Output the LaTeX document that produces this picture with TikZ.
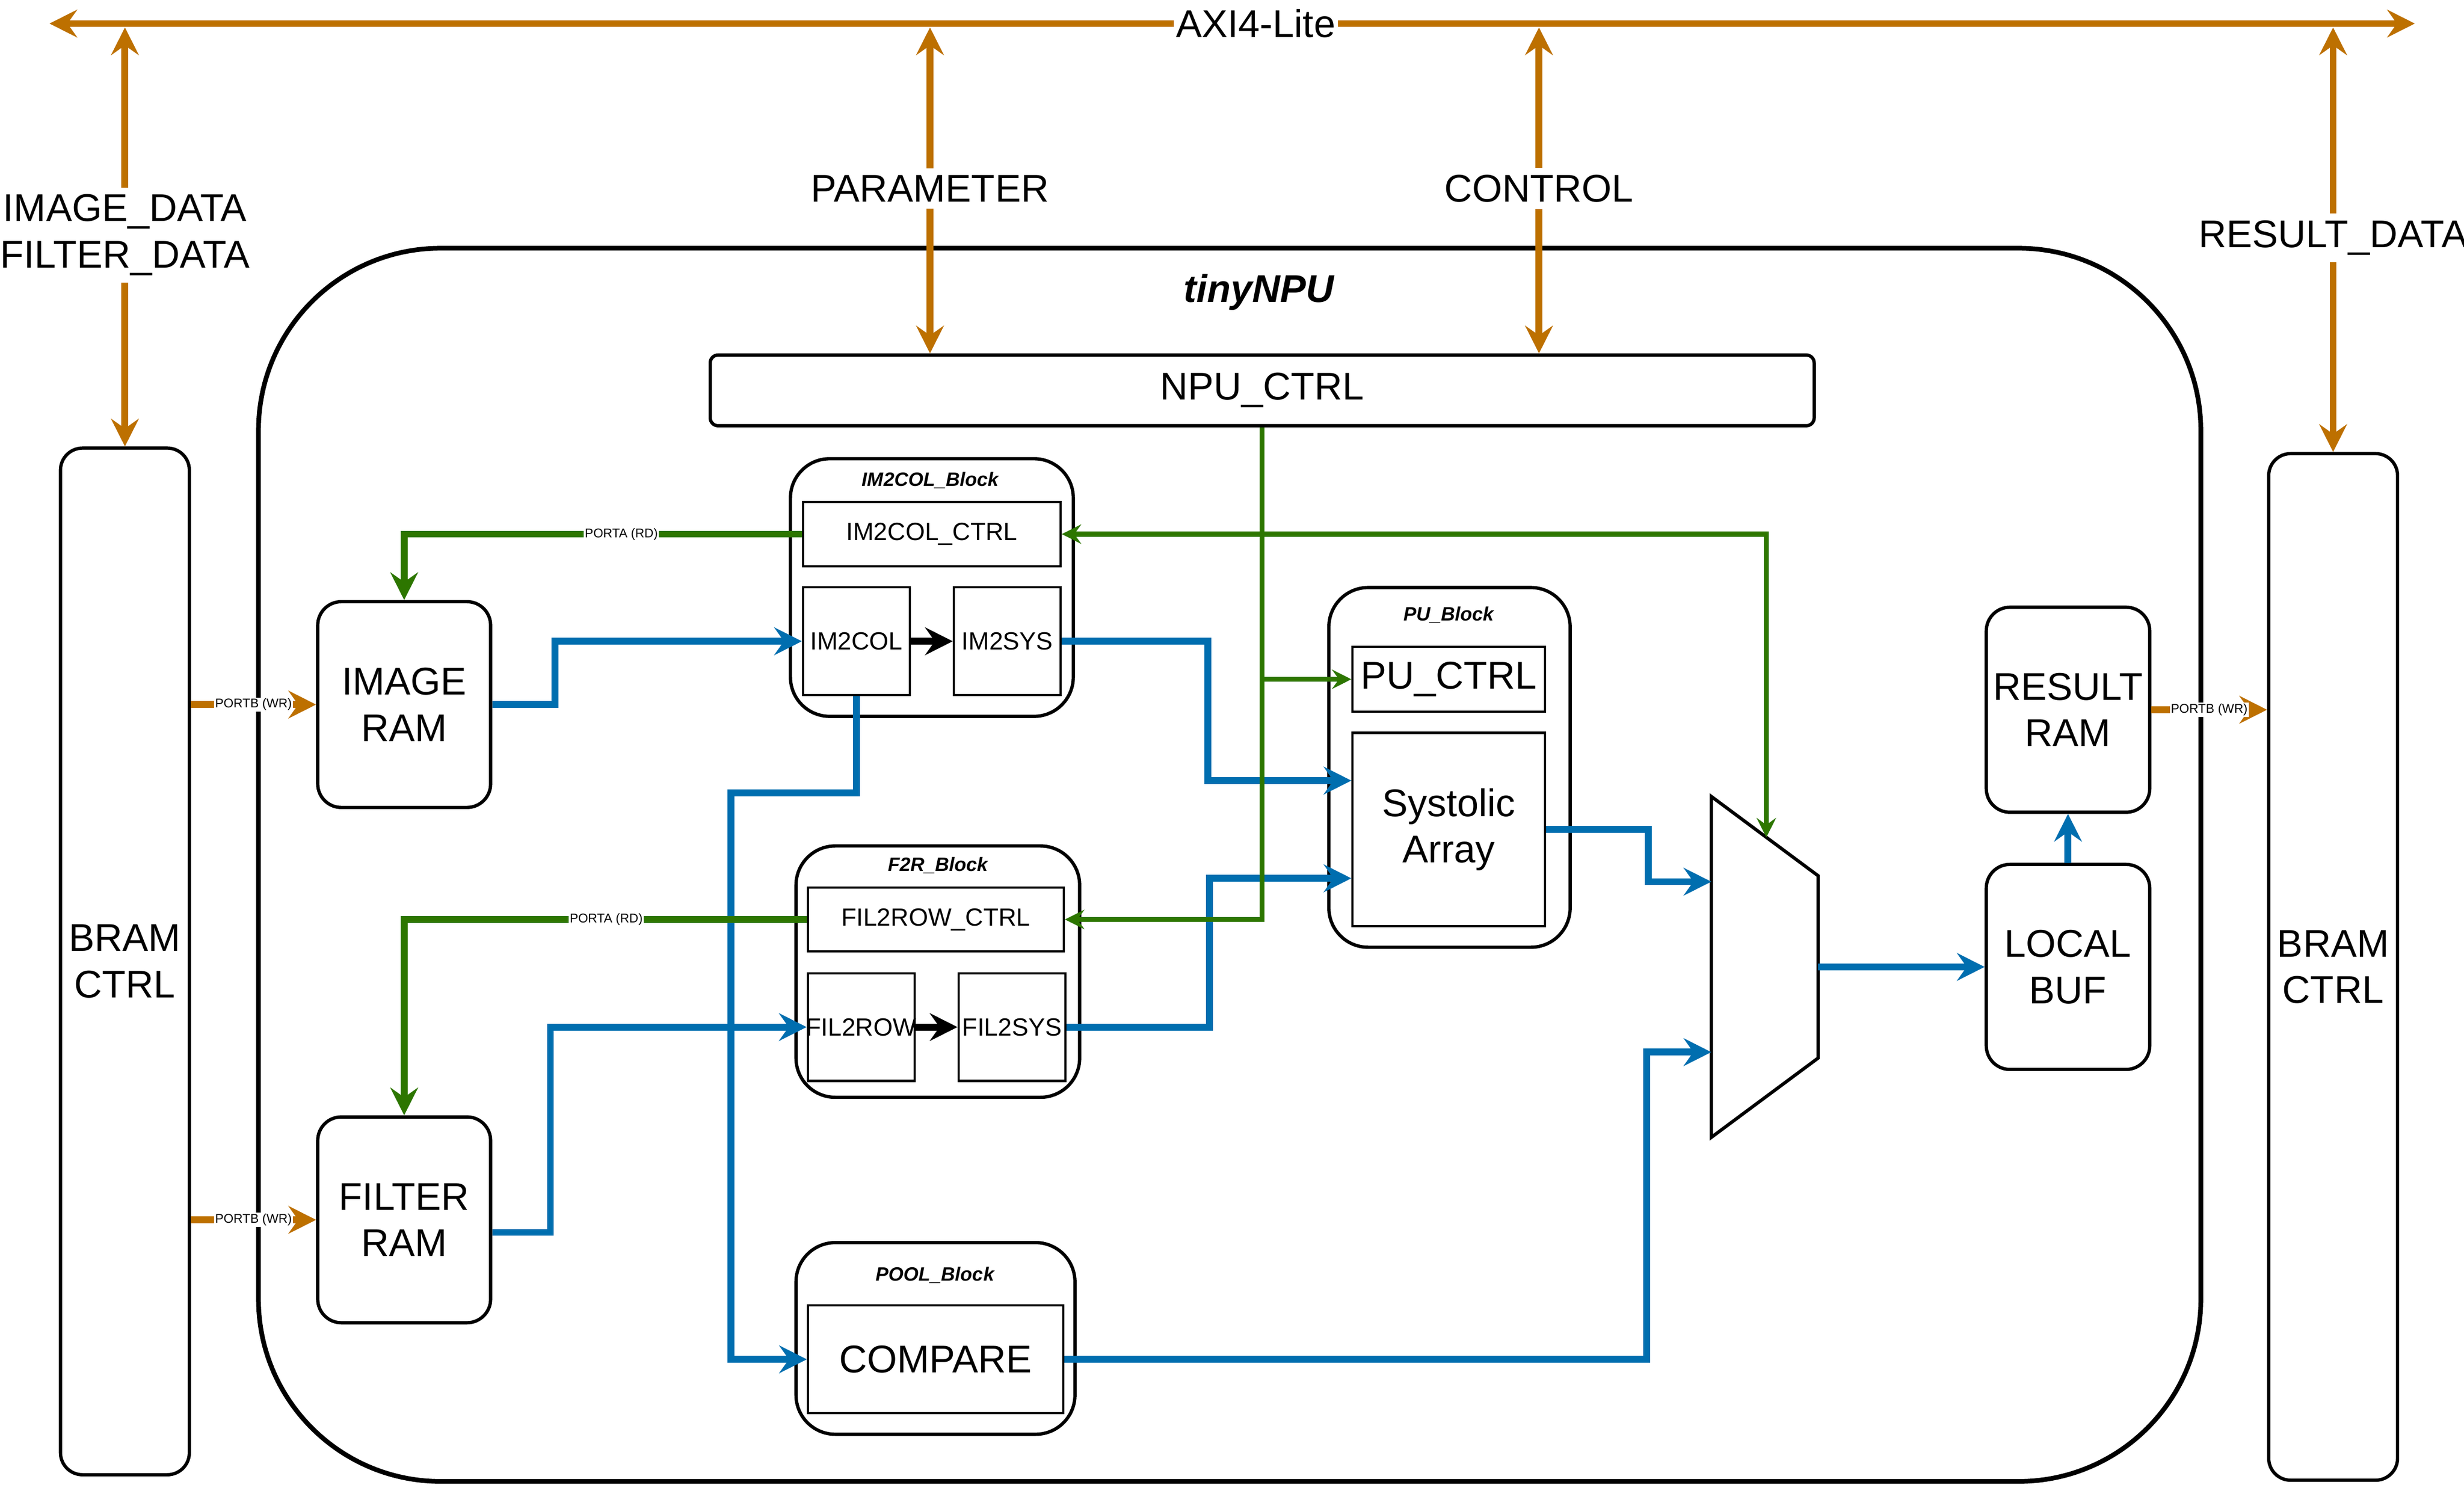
\documentclass[tikz,border=0pt]{standalone}
\usepackage{fontspec}
\setmainfont{Liberation Sans}
\usetikzlibrary{arrows.meta,calc}
\definecolor{axiorange}{HTML}{BD7000}
\definecolor{datablue}{HTML}{006EAF}
\definecolor{ctrlgreen}{HTML}{2D7600}

\begin{document}
\begin{tikzpicture}[x=0.2mm,y=-0.2mm,
  bigtext/.style={font=\fontsize{14}{16.8}\selectfont,align=center},
  smalltext/.style={font=\fontsize{9}{10.8}\selectfont},
  porttext/.style={font=\fontsize{4.6}{5.5}\selectfont,fill=white,inner sep=0.4pt},
  lbl/.style={bigtext,fill=white,inner sep=2.5pt},
  blocktitle/.style={font=\fontsize{7}{8.4}\selectfont\bfseries\itshape},
  ram/.style={draw,line width=1.2pt,rounded corners=3mm,bigtext,inner sep=0pt,minimum width=22mm,minimum height=26.2mm},
  bram/.style={draw,line width=1.2pt,rounded corners=2.8mm,bigtext,inner sep=0pt,minimum width=16.4mm,minimum height=130.7mm},
  blockbox/.style={draw,line width=1.2pt,rounded corners=5mm},
  subbox/.style={draw,line width=0.8pt,inner sep=0pt},
  bigtip/.tip={Stealth[length=10pt,width=10pt,inset=3.5pt]},
  smalltip/.tip={Stealth[length=7pt,width=7pt,inset=2.5pt]},
  axi/.style={draw=axiorange,line width=2.5pt,{bigtip}-{bigtip}},
  wr/.style={draw=axiorange,line width=2.5pt,-{bigtip}},
  data/.style={draw=datablue,line width=2.5pt,-{bigtip}},
  rd/.style={draw=ctrlgreen,line width=2.5pt,-{bigtip}},
  ctl/.style={draw=ctrlgreen,line width=1.8pt,-{smalltip}},
  pass/.style={draw,line width=2.5pt,-{bigtip}}]
\useasboundingbox (0,0) rectangle (1568,945);

\node[draw,line width=1.7pt,rounded corners=23.2mm,minimum width=247.2mm,minimum height=157mm] (npu) at (782.5,550.5) {};
\node[font=\fontsize{14}{16.8}\selectfont\bfseries\itshape] (npuT) at (801,186) {tinyNPU};

\node[bram] (bramL) at (79.5,612) {BRAM\\CTRL};
\node[bram] (bramR) at (1484.7,615.5) {BRAM\\CTRL};
\node[draw,line width=1.2pt,rounded corners=1mm,bigtext,minimum width=140.5mm,minimum height=9mm] (npuctrl) at (803.2,248.5) {NPU\_CTRL};

\node[ram] (imgram) at (257.2,448.5) {IMAGE\\RAM};
\node[ram] (filram) at (257.2,776.5) {FILTER\\RAM};
\node[ram,minimum width=20.8mm,minimum height=26.1mm] (resram) at (1316,451.8) {RESULT\\RAM};
\node[ram,minimum width=20.8mm,minimum height=26.1mm] (localbuf) at (1316,615.5) {LOCAL\\BUF};

\node[blockbox,minimum width=36mm,minimum height=32.8mm] (im2colB) at (593,374) {};
\node[blocktitle] (im2colT) at (592,305.6) {IM2COL\_Block};
\node[subbox,smalltext,minimum width=32.8mm,minimum height=8.2mm] (im2colctrl) at (593,340) {IM2COL\_CTRL};
\node[subbox,smalltext,minimum width=13.6mm,minimum height=13.7mm] (im2col) at (545,408.2) {IM2COL};
\node[subbox,smalltext,minimum width=13.6mm,minimum height=13.7mm] (im2sys) at (641,408.2) {IM2SYS};

\node[blockbox,minimum width=36.1mm,minimum height=32mm] (f2rB) at (596.8,618.5) {};
\node[blocktitle] (f2rT) at (596.8,551) {F2R\_Block};
\node[subbox,smalltext,minimum width=32.6mm,minimum height=8.1mm] (fil2rowctrl) at (595.5,585.3) {FIL2ROW\_CTRL};
\node[subbox,smalltext,inner xsep=-2pt,minimum width=13.6mm,minimum height=13.7mm] (fil2row) at (548,653.8) {FIL2ROW};
\node[subbox,smalltext,minimum width=13.6mm,minimum height=13.7mm] (fil2sys) at (644,653.8) {FIL2SYS};

\node[blockbox,minimum width=35.5mm,minimum height=24.4mm] (poolB) at (595.3,852) {};
\node[blocktitle] (poolT) at (595,811.7) {POOL\_Block};
\node[subbox,bigtext,minimum width=32.5mm,minimum height=13.7mm] (compare) at (595.4,865.3) {COMPARE};

\node[blockbox,minimum width=30.7mm,minimum height=45.8mm] (puB) at (922.4,488.5) {};
\node[blocktitle] (puT) at (922,391.6) {PU\_Block};
\node[subbox,bigtext,minimum width=24.5mm,minimum height=8.3mm] (puctrl) at (921.9,432.4) {PU\_CTRL};
\node[subbox,bigtext,minimum width=24.5mm,minimum height=24.6mm] (systolic) at (921.9,528) {Systolic\\Array};

\coordinate (muxA) at (1089,507);
\coordinate (muxB) at (1157,557.5);
\coordinate (muxC) at (1157,673.5);
\coordinate (muxD) at (1089,724);
\draw[line width=1.2pt] (muxA) -- (muxB) -- (muxC) -- (muxD) -- cycle;
\coordinate (muxIn1) at ($(muxA)!.25!(muxD)$);
\coordinate (muxIn2) at ($(muxA)!.75!(muxD)$);
\coordinate (muxOut) at ($(muxB)!.5!(muxC)$);
\coordinate (muxSel) at ($(muxA)!.515!(muxB)$);

\coordinate (busL) at (31.5,15);
\coordinate (busR) at (1536.7,15);
\coordinate (parIn) at ($(npuctrl.north west)!.2!(npuctrl.north east)$);
\coordinate (ctlIn) at ($(npuctrl.north west)!.75!(npuctrl.north east)$);
\draw[axi] (busL) -- (busR) node[bigtext,fill=white,inner sep=1pt,pos=.51] (axiT) {AXI4-Lite};
\draw[axi,shorten <=1.4pt] (bramL.north |- busL) -- (bramL.north) node[lbl,midway] (idT) {IMAGE\_DATA\\FILTER\_DATA};
\draw[axi,shorten <=1.4pt] (parIn |- busL) -- (parIn) node[lbl,midway] (parT) {PARAMETER};
\draw[axi,shorten <=1.4pt] (ctlIn |- busL) -- (ctlIn) node[lbl,midway] (ctlT) {CONTROL};
\draw[axi,shorten <=1.4pt] (bramR.north |- busL) -- (bramR.north) node[lbl,midway] (rdT) {RESULT\_DATA};

\draw[data] (imgram.east) -- ++(40,0) |- (im2col.west);
\draw[data] ($(filram.north east)!.56!(filram.south east)$) -- ++(37,0) |- (fil2row.west);
\draw[data] (im2sys.east) -- ++(93,0) |- ($(systolic.north west)!.25!(systolic.south west)$);
\draw[data] (fil2sys.east) -- ++(91,0) |- ($(systolic.north west)!.75!(systolic.south west)$);
\draw[data] (im2col.south) -- ++(0,61.5) -- ++(-80,0) |- (compare.west);
\draw[data] (systolic.east) -| ($(muxIn1)+(-40,0)$) -- (muxIn1);
\draw[data] (compare.east) -| ($(muxIn2)+(-41,0)$) -- (muxIn2);
\draw[data] (muxOut) -- (localbuf.west);
\draw[data] (localbuf.north) -- (resram.south);

\draw[pass] (im2col.east) -- (im2sys.west);
\draw[pass] (fil2row.east) -- (fil2sys.west);

\draw[rd] (im2colctrl.west) -| (imgram.north) node[porttext,pos=.227] (paI) {PORTA (RD)};
\draw[rd] (fil2rowctrl.west) -| (filram.north) node[porttext,pos=.249] (paF) {PORTA (RD)};

\draw[ctl] (npuctrl.south) |- (fil2rowctrl.east);
\draw[ctl] (npuctrl.south |- im2colctrl.east) -- (im2colctrl.east);
\draw[ctl] (npuctrl.south |- im2colctrl.east) -| (muxSel);
\draw[ctl] (npuctrl.south |- puctrl.west) -- (puctrl.west);

\draw[wr] (bramL.east |- imgram.west) -- (imgram.west) node[porttext,midway] (pbI) {PORTB (WR)};
\draw[wr] (bramL.east |- filram.west) -- (filram.west) node[porttext,midway] (pbF) {PORTB (WR)};
\draw[wr] (resram.east) -- (bramR.west |- resram.east) node[porttext,midway] (pbR) {PORTB (WR)};

\end{tikzpicture}
\end{document}
